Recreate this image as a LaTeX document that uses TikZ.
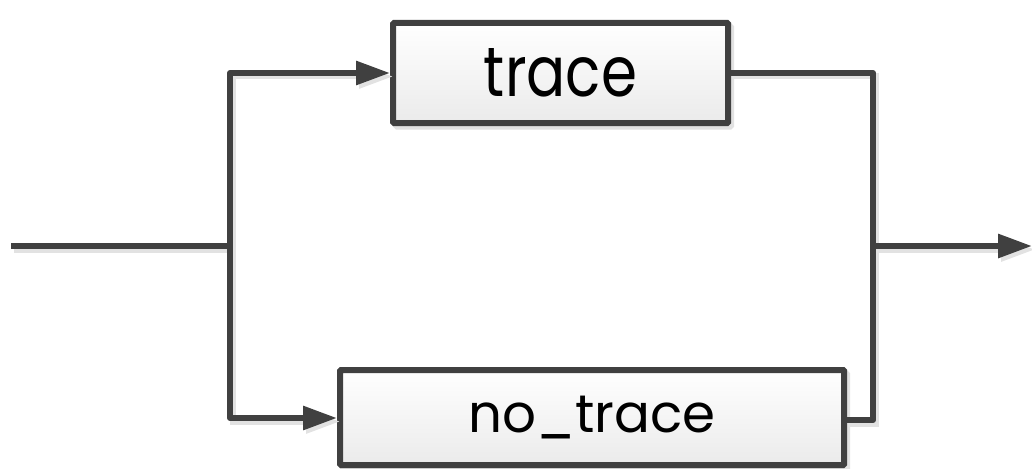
\documentclass[tikz,border=0pt]{standalone}
\usepackage{fontspec}
\setmainfont{Poppins}
\usetikzlibrary{arrows.meta}
\definecolor{ln}{HTML}{404040}
\definecolor{sh}{HTML}{E2E2E2}
\tikzset{
  shadowed/.style={preaction={draw=sh, line width=6pt, transform canvas={shift={(3pt,-3.5pt)}}}},
  wire/.style={draw=ln, line width=6pt, line join=round, shadowed},
  arr/.style={wire, -{Triangle[length=34pt,width=23pt]}},
  blockbox/.style={draw=ln, line width=6pt, rounded corners=1pt, top color=white, bottom color=black!8,
     inner sep=0pt, text=black,
     preaction={fill=sh, draw=sh, transform canvas={shift={(3pt,-3.5pt)}}}},
}
\begin{document}
\begin{tikzpicture}[x=1pt,y=-1pt]
\useasboundingbox (0,0) rectangle (1032,468);
\node[blockbox, minimum width=335pt, minimum height=100pt] (tr) at (560.5,73)
  {\resizebox{153pt}{48pt}{trace}};
\node[blockbox, minimum width=504pt, minimum height=95pt] (nt) at (592,417.5)
  {\raisebox{-4pt}{\resizebox{247pt}{!}{no\_trace}}};
\coordinate (in) at (11,246);
\coordinate (sp) at (230,246);
\coordinate (mg) at (873,246);
\coordinate (out) at (1032,246);
\draw[wire] (in) -- (sp);
\draw[arr] (sp) |- (tr.west);
\draw[arr] (sp) |- (nt.west |- 0,418);
\draw[wire] (tr.east) -| (mg);
\draw[wire] (nt.east |- 0,420) -| (mg);
\draw[arr] (mg) -- (out);
\end{tikzpicture}
\end{document}
